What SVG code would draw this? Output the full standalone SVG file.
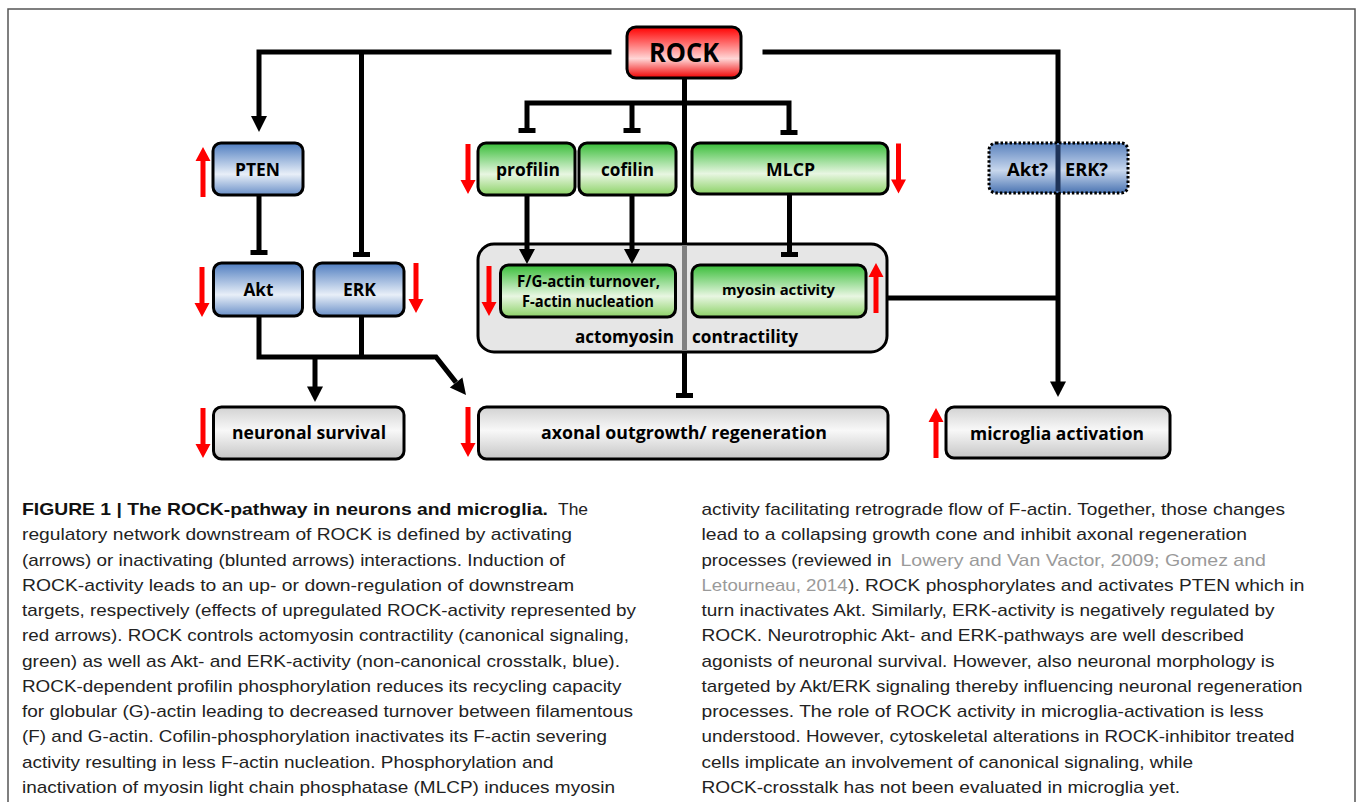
<svg xmlns="http://www.w3.org/2000/svg" width="1358" height="802" viewBox="0 0 1358 802">
<defs>
<style>
.box{stroke:#000;stroke-width:3}
.lbl{font-family:"Open Sans","Liberation Sans",sans-serif;font-weight:bold;font-size:17px;fill:#000}
.sm{font-size:15px}
.fg{font-size:16px}
.ln{stroke:#000;stroke-width:5;fill:none}
.cap{font-family:"Liberation Sans",Arial,sans-serif;font-size:17px;fill:#222}
.capb{font-weight:bold;fill:#111}
.ref{fill:#9a9a9a}
</style>
<linearGradient id="gBlue" x1="0" y1="0" x2="0" y2="1">
<stop offset="0" stop-color="#4f7dc0"/><stop offset="0.6" stop-color="#e8eff8"/><stop offset="1" stop-color="#6a90c8"/>
</linearGradient>
<linearGradient id="gBlue2" x1="0" y1="0" x2="0" y2="1">
<stop offset="0" stop-color="#5a82be"/><stop offset="0.55" stop-color="#c8d7ed"/><stop offset="1" stop-color="#4a74b2"/>
</linearGradient>
<linearGradient id="gGreen" x1="0" y1="0" x2="0" y2="1">
<stop offset="0" stop-color="#38bd38"/><stop offset="0.6" stop-color="#e8f6e2"/><stop offset="1" stop-color="#8cd266"/>
</linearGradient>
<linearGradient id="gRed" x1="0" y1="0" x2="0" y2="1">
<stop offset="0" stop-color="#ff0000"/><stop offset="0.62" stop-color="#ffd6d6"/><stop offset="1" stop-color="#f00000"/>
</linearGradient>
<linearGradient id="gGray" x1="0" y1="0" x2="0" y2="1">
<stop offset="0" stop-color="#d2d2d2"/><stop offset="0.45" stop-color="#f8f8f8"/><stop offset="1" stop-color="#c6c6c6"/>
</linearGradient>
<path id="ra" d="M-2.5,0 H2.5 V36 H7.5 L0,50 L-7.5,36 H-2.5 Z" fill="#ff0000"/>
</defs>

<rect x="0" y="0" width="1358" height="802" fill="#fff"/>
<rect x="8" y="9" width="1347" height="810" fill="#fff" stroke="#555" stroke-width="1.5"/>

<!-- nodes -->
<g id="node-rock">
<rect class="box" x="627" y="27" width="114" height="51" rx="9" fill="url(#gRed)"/>
<text class="lbl" x="649" y="62" style="font-size:27px" textLength="70" lengthAdjust="spacingAndGlyphs">ROCK</text>
</g>
<g id="node-pten">
<rect class="box" x="213" y="143" width="90" height="52" rx="8" fill="url(#gBlue)"/>
<text class="lbl" x="235" y="176" textLength="45" lengthAdjust="spacingAndGlyphs">PTEN</text>
</g>
<g id="node-profilin">
<rect class="box" x="478" y="143" width="97" height="52" rx="8" fill="url(#gGreen)"/>
<text class="lbl" x="496" y="176" textLength="64" lengthAdjust="spacingAndGlyphs">profilin</text>
</g>
<g id="node-cofilin">
<rect class="box" x="579" y="143" width="97" height="52" rx="8" fill="url(#gGreen)"/>
<text class="lbl" x="601" y="176" textLength="53" lengthAdjust="spacingAndGlyphs">cofilin</text>
</g>
<g id="node-mlcp">
<rect class="box" x="692" y="143" width="196" height="51" rx="8" fill="url(#gGreen)"/>
<text class="lbl" x="766" y="176" textLength="49" lengthAdjust="spacingAndGlyphs">MLCP</text>
</g>
<g id="node-akt-erk-q">
<rect x="989" y="143" width="139" height="50" rx="7" fill="url(#gBlue2)" stroke="#000" stroke-width="3" stroke-dasharray="2.5,2"/>
<text class="lbl" x="1007" y="176" textLength="41" lengthAdjust="spacingAndGlyphs">Akt?</text>
<text class="lbl" x="1065" y="176" textLength="43" lengthAdjust="spacingAndGlyphs">ERK?</text>
</g>
<g id="node-akt">
<rect class="box" x="213.5" y="263" width="89" height="53" rx="8" fill="url(#gBlue)"/>
<text class="lbl" x="243.5" y="296" textLength="30" lengthAdjust="spacingAndGlyphs">Akt</text>
</g>
<g id="node-erk">
<rect class="box" x="314" y="263" width="90" height="53" rx="8" fill="url(#gBlue)"/>
<text class="lbl" x="343" y="296" textLength="33" lengthAdjust="spacingAndGlyphs">ERK</text>
</g>
<g id="node-actomyosin">
<rect class="box" x="478" y="244" width="409" height="108" rx="16" fill="#e6e6e6"/>
<text class="lbl" x="575" y="343" textLength="99" lengthAdjust="spacingAndGlyphs">actomyosin</text>
<text class="lbl" x="692" y="343" textLength="106" lengthAdjust="spacingAndGlyphs">contractility</text>
</g>
<g id="node-fg-actin">
<rect class="box" x="500.5" y="265" width="175" height="52" rx="8" fill="url(#gGreen)"/>
<text class="lbl fg" x="517" y="287" textLength="143" lengthAdjust="spacingAndGlyphs">F/G-actin turnover,</text>
<text class="lbl fg" x="522" y="307" textLength="132" lengthAdjust="spacingAndGlyphs">F-actin nucleation</text>
</g>
<g id="node-myosin">
<rect class="box" x="692" y="265" width="174" height="52" rx="8" fill="url(#gGreen)"/>
<text class="lbl sm" x="722" y="295" textLength="113" lengthAdjust="spacingAndGlyphs">myosin activity</text>
</g>
<g id="node-survival">
<rect class="box" x="213.5" y="407" width="190.5" height="52" rx="8" fill="url(#gGray)"/>
<text class="lbl" x="232" y="439" textLength="154" lengthAdjust="spacingAndGlyphs">neuronal survival</text>
</g>
<g id="node-axonal">
<rect class="box" x="478.5" y="407" width="409.5" height="52" rx="8" fill="url(#gGray)"/>
<text class="lbl" x="541" y="439" textLength="286" lengthAdjust="spacingAndGlyphs">axonal outgrowth/ regeneration</text>
</g>
<g id="node-microglia">
<rect class="box" x="946" y="407" width="224" height="51" rx="8" fill="url(#gGray)"/>
<text class="lbl" x="970" y="440" textLength="174" lengthAdjust="spacingAndGlyphs">microglia activation</text>
</g>

<!-- connectors -->
<g id="connectors">
<polyline class="ln" points="611.5,52 259,52 259,118"/>
<polygon points="251,116 267,116 259,132"/>
<line class="ln" x1="361.5" y1="52" x2="361.5" y2="253"/>
<rect x="353" y="252" width="17" height="5"/>
<line class="ln" x1="259" y1="195" x2="259" y2="251"/>
<rect x="250.5" y="250" width="17" height="5"/>
<line class="ln" x1="684.5" y1="78" x2="684.5" y2="245"/>
<line x1="684.5" y1="245" x2="684.5" y2="351" stroke="#808080" stroke-width="5"/>
<line class="ln" x1="684.5" y1="351" x2="684.5" y2="394"/>
<rect x="676" y="393" width="17" height="5"/>
<polyline class="ln" points="527,130 527,103 789,103 789,131"/>
<line class="ln" x1="632" y1="103" x2="632" y2="130"/>
<rect x="518.5" y="128" width="17" height="5"/>
<rect x="623.5" y="128" width="17" height="5"/>
<rect x="780.5" y="130" width="17" height="5"/>
<line class="ln" x1="527" y1="195" x2="527" y2="251"/>
<polygon points="519,249 535,249 527,264"/>
<line class="ln" x1="632" y1="195" x2="632" y2="251"/>
<polygon points="624,249 640,249 632,264"/>
<line class="ln" x1="789.5" y1="194" x2="789.5" y2="253"/>
<rect x="781" y="252" width="17" height="5"/>
<polyline class="ln" points="259,316 259,357 436,357 456,382.4"/>
<line class="ln" x1="361.5" y1="316" x2="361.5" y2="357"/>
<line class="ln" x1="315" y1="357" x2="315" y2="388"/>
<polygon points="307,386.5 323,386.5 315,402"/>
<polygon points="449.8,387.4 462.4,377.4 466,395"/>
<polyline class="ln" points="762.5,52 1058,52 1058,143"/>
<line x1="1058" y1="145" x2="1058" y2="191" stroke="#1e3358" stroke-width="5"/>
<line class="ln" x1="1058" y1="193" x2="1058" y2="383"/>
<polygon points="1050,381.5 1066,381.5 1058,397"/>
<line class="ln" x1="887" y1="298" x2="1058" y2="298"/>
</g>

<g id="red-arrows">
<use href="#ra" transform="translate(203,197) scale(1,-1)"/>
<use href="#ra" transform="translate(468,144)"/>
<use href="#ra" transform="translate(898.5,143.5)"/>
<use href="#ra" transform="translate(202,267)"/>
<use href="#ra" transform="translate(416,263)"/>
<use href="#ra" transform="translate(489,266)"/>
<use href="#ra" transform="translate(876,313) scale(1,-1)"/>
<use href="#ra" transform="translate(203,408)"/>
<use href="#ra" transform="translate(468,407)"/>
<use href="#ra" transform="translate(936,458) scale(1,-1)"/>
</g>

<g id="caption">
<text class="cap capb" x="22" y="515" textLength="526" lengthAdjust="spacingAndGlyphs">FIGURE 1 | The ROCK-pathway in neurons and microglia.</text>
<text class="cap" x="558" y="515" textLength="30" lengthAdjust="spacingAndGlyphs">The</text>
<text class="cap" x="22" y="540.25" textLength="550" lengthAdjust="spacingAndGlyphs">regulatory network downstream of ROCK is defined by activating</text>
<text class="cap" x="22" y="565.5" textLength="543" lengthAdjust="spacingAndGlyphs">(arrows) or inactivating (blunted arrows) interactions. Induction of</text>
<text class="cap" x="22" y="590.75" textLength="552" lengthAdjust="spacingAndGlyphs">ROCK-activity leads to an up- or down-regulation of downstream</text>
<text class="cap" x="22" y="616" textLength="614" lengthAdjust="spacingAndGlyphs">targets, respectively (effects of upregulated ROCK-activity represented by</text>
<text class="cap" x="22" y="641.25" textLength="607" lengthAdjust="spacingAndGlyphs">red arrows). ROCK controls actomyosin contractility (canonical signaling,</text>
<text class="cap" x="22" y="666.5" textLength="598" lengthAdjust="spacingAndGlyphs">green) as well as Akt- and ERK-activity (non-canonical crosstalk, blue).</text>
<text class="cap" x="22" y="691.75" textLength="599.5" lengthAdjust="spacingAndGlyphs">ROCK-dependent profilin phosphorylation reduces its recycling capacity</text>
<text class="cap" x="22" y="717" textLength="611" lengthAdjust="spacingAndGlyphs">for globular (G)-actin leading to decreased turnover between filamentous</text>
<text class="cap" x="22" y="742.25" textLength="585" lengthAdjust="spacingAndGlyphs">(F) and G-actin. Cofilin-phosphorylation inactivates its F-actin severing</text>
<text class="cap" x="22" y="767.5" textLength="531.5" lengthAdjust="spacingAndGlyphs">activity resulting in less F-actin nucleation. Phosphorylation and</text>
<text class="cap" x="22" y="792.75" textLength="593" lengthAdjust="spacingAndGlyphs">inactivation of myosin light chain phosphatase (MLCP) induces myosin</text>

<text class="cap" x="701.5" y="515" textLength="583.5" lengthAdjust="spacingAndGlyphs">activity facilitating retrograde flow of F-actin. Together, those changes</text>
<text class="cap" x="701.5" y="540.25" textLength="545.5" lengthAdjust="spacingAndGlyphs">lead to a collapsing growth cone and inhibit axonal regeneration</text>
<text class="cap" x="701.5" y="565.5" textLength="190" lengthAdjust="spacingAndGlyphs">processes (reviewed in</text>
<text class="cap ref" x="900.5" y="565.5" textLength="365.5" lengthAdjust="spacingAndGlyphs">Lowery and Van Vactor, 2009; Gomez and</text>
<text class="cap ref" x="701.5" y="590.75" textLength="146" lengthAdjust="spacingAndGlyphs">Letourneau, 2014</text>
<text class="cap" x="848" y="590.75" textLength="456.5" lengthAdjust="spacingAndGlyphs">). ROCK phosphorylates and activates PTEN which in</text>
<text class="cap" x="701.5" y="616" textLength="573" lengthAdjust="spacingAndGlyphs">turn inactivates Akt. Similarly, ERK-activity is negatively regulated by</text>
<text class="cap" x="701.5" y="641.25" textLength="542.5" lengthAdjust="spacingAndGlyphs">ROCK. Neurotrophic Akt- and ERK-pathways are well described</text>
<text class="cap" x="701.5" y="666.5" textLength="573" lengthAdjust="spacingAndGlyphs">agonists of neuronal survival. However, also neuronal morphology is</text>
<text class="cap" x="701.5" y="691.75" textLength="601" lengthAdjust="spacingAndGlyphs">targeted by Akt/ERK signaling thereby influencing neuronal regeneration</text>
<text class="cap" x="701.5" y="717" textLength="562" lengthAdjust="spacingAndGlyphs">processes. The role of ROCK activity in microglia-activation is less</text>
<text class="cap" x="701.5" y="742.25" textLength="593" lengthAdjust="spacingAndGlyphs">understood. However, cytoskeletal alterations in ROCK-inhibitor treated</text>
<text class="cap" x="701.5" y="767.5" textLength="491.5" lengthAdjust="spacingAndGlyphs">cells implicate an involvement of canonical signaling, while</text>
<text class="cap" x="701.5" y="792.75" textLength="478.5" lengthAdjust="spacingAndGlyphs">ROCK-crosstalk has not been evaluated in microglia yet.</text>
</g>
</svg>
